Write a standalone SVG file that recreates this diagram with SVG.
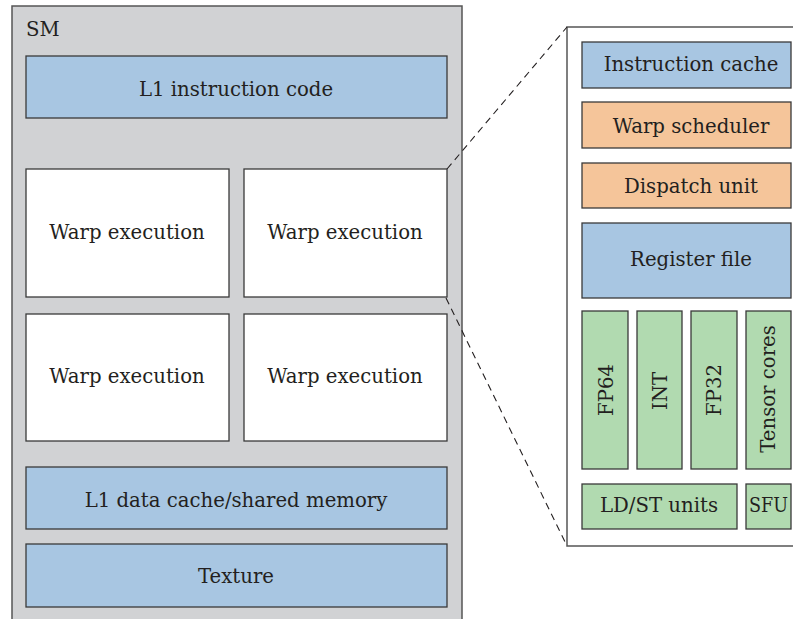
<svg xmlns="http://www.w3.org/2000/svg" width="793" height="619" viewBox="0 0 793 619">
  <style>
    text { font-family: "DejaVu Serif", "Liberation Serif", serif; font-size: 19.7px; fill: #231f20; }
    .c { text-anchor: middle; }
    .box { stroke: #3a3a3a; stroke-width: 1.3; }
    .blue { fill: #a8c6e2; }
    .orange { fill: #f5c59a; }
    .green { fill: #b1dab0; }
    .white { fill: #ffffff; }
    .vt { text-anchor: middle; dominant-baseline: central; }
    .dash { fill: none; stroke: #231f20; stroke-width: 1.1; stroke-dasharray: 7 5; }
  </style>

  <!-- SM container -->
  <g id="sm">
    <rect x="12" y="6" width="450" height="640" fill="#d1d2d4" stroke="#555" stroke-width="1.5"/>
    <text x="26" y="36">SM</text>
  </g>
  <g id="l1-instruction">
    <rect class="box blue" x="26" y="56" width="421" height="62"/>
    <text class="c" x="236" y="96">L1 instruction code</text>
  </g>
  <g id="warp-1">
    <rect class="box white" x="26" y="169" width="203" height="128"/>
    <text class="c" x="127" y="239">Warp execution</text>
  </g>
  <g id="warp-2">
    <rect class="box white" x="244" y="169" width="203" height="128"/>
    <text class="c" x="345" y="239">Warp execution</text>
  </g>
  <g id="warp-3">
    <rect class="box white" x="26" y="314" width="203" height="127"/>
    <text class="c" x="127" y="383">Warp execution</text>
  </g>
  <g id="warp-4">
    <rect class="box white" x="244" y="314" width="203" height="127"/>
    <text class="c" x="345" y="383">Warp execution</text>
  </g>
  <g id="l1-data">
    <rect class="box blue" x="26" y="467" width="421" height="62"/>
    <text class="c" x="236" y="507">L1 data cache/shared memory</text>
  </g>
  <g id="texture">
    <rect class="box blue" x="26" y="544" width="421" height="63"/>
    <text class="c" x="236" y="583">Texture</text>
  </g>

  <!-- Detail panel -->
  <g id="detail">
    <rect x="567" y="27" width="240" height="519" fill="#ffffff" stroke="#555" stroke-width="1.5"/>
  </g>
  <g id="instruction-cache">
    <rect class="box blue" x="582" y="42" width="209" height="46"/>
    <text class="c" x="691" y="71">Instruction cache</text>
  </g>
  <g id="warp-scheduler">
    <rect class="box orange" x="582" y="102" width="209" height="46"/>
    <text class="c" x="691" y="133">Warp scheduler</text>
  </g>
  <g id="dispatch-unit">
    <rect class="box orange" x="582" y="163" width="209" height="45"/>
    <text class="c" x="691" y="193">Dispatch unit</text>
  </g>
  <g id="register-file">
    <rect class="box blue" x="582" y="223" width="209" height="75"/>
    <text class="c" x="691" y="266">Register file</text>
  </g>
  <g id="fp64">
    <rect class="box green" x="582" y="311" width="46" height="158"/>
    <text class="vt" transform="translate(606 390) rotate(-90)">FP64</text>
  </g>
  <g id="int">
    <rect class="box green" x="637" y="311" width="45" height="158"/>
    <text class="vt" transform="translate(660 391) rotate(-90)">INT</text>
  </g>
  <g id="fp32">
    <rect class="box green" x="691" y="311" width="46" height="158"/>
    <text class="vt" transform="translate(714 390) rotate(-90)">FP32</text>
  </g>
  <g id="tensor-cores">
    <rect class="box green" x="746" y="311" width="45" height="158"/>
    <text class="vt" transform="translate(768 389) rotate(-90)">Tensor cores</text>
  </g>
  <g id="ldst-units">
    <rect class="box green" x="582" y="484" width="155" height="45"/>
    <text class="c" x="659" y="512">LD/ST units</text>
  </g>
  <g id="sfu">
    <rect class="box green" x="746" y="484" width="45" height="45"/>
    <text class="c" x="768.5" y="512" textLength="39" lengthAdjust="spacingAndGlyphs">SFU</text>
  </g>

  <!-- Zoom guide lines -->
  <g id="connectors">
    <line class="dash" x1="447" y1="169" x2="567" y2="27"/>
    <line class="dash" x1="446" y1="298" x2="567" y2="546"/>
  </g>
</svg>
